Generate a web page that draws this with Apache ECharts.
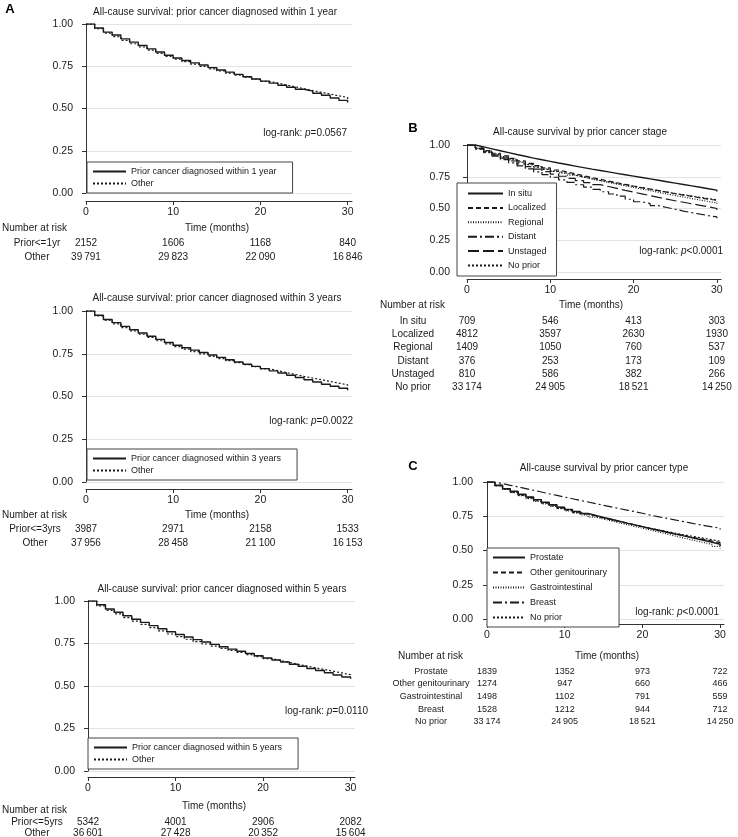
<!DOCTYPE html>
<html><head><meta charset="utf-8">
<script src="https://cdn.jsdelivr.net/npm/echarts@6/dist/echarts.min.js"></script>
<style>html,body{margin:0;padding:0;background:#fff}#c{width:738px;height:837px}</style>
</head><body><div id="c"></div>
<script>
// ---------- shared axis values ----------
const months = [0,1,2,3,4,5,6,7,8,9,10,11,12,13,14,15,16,17,18,19,20,21,22,23,24,25,26,27,28,29,30];
const timeTicks = [0,10,20,30];
const riskTimes = [0,10,20,30];

// ---------- Panel A (1 year) ----------
const a1Title = 'All-cause survival: prior cancer diagnosed within 1 year';
const a1Names = ['Prior cancer diagnosed within 1 year','Other'];
const a1Prior = [1.000,0.976,0.952,0.935,0.912,0.893,0.873,0.853,0.834,0.815,0.799,0.784,0.770,0.757,0.742,0.728,0.715,0.702,0.688,0.675,0.662,0.650,0.638,0.626,0.614,0.603,0.590,0.578,0.562,0.548,0.535];
const a1Other = [1.000,0.972,0.946,0.925,0.903,0.883,0.864,0.845,0.826,0.808,0.792,0.777,0.763,0.749,0.735,0.722,0.709,0.697,0.685,0.673,0.661,0.650,0.639,0.628,0.617,0.606,0.596,0.586,0.575,0.565,0.555];
const a1P = '=0.0567';
const a1RiskLabels = ['Prior<=1yr','Other'];
const a1RiskPrior = [2152,1606,1168,840];
const a1RiskOther = [39791,29823,22090,16846];

// ---------- Panel A (3 years) ----------
const a2Title = 'All-cause survival: prior cancer diagnosed within 3 years';
const a2Names = ['Prior cancer diagnosed within 3 years','Other'];
const a2Prior = [1.000,0.975,0.950,0.932,0.910,0.890,0.871,0.852,0.834,0.816,0.800,0.785,0.771,0.757,0.743,0.729,0.715,0.702,0.689,0.676,0.663,0.650,0.637,0.624,0.611,0.598,0.585,0.572,0.560,0.548,0.536];
const a2Other = [1.000,0.972,0.946,0.925,0.903,0.883,0.864,0.845,0.826,0.808,0.792,0.777,0.763,0.749,0.735,0.722,0.710,0.698,0.686,0.674,0.662,0.651,0.640,0.629,0.618,0.608,0.598,0.588,0.578,0.568,0.558];
const a2P = '=0.0022';
const a2RiskLabels = ['Prior<=3yrs','Other'];
const a2RiskPrior = [3987,2971,2158,1533];
const a2RiskOther = [37956,28458,21100,16153];

// ---------- Panel A (5 years) ----------
const a3Title = 'All-cause survival: prior cancer diagnosed within 5 years';
const a3Names = ['Prior cancer diagnosed within 5 years','Other'];
const a3Prior = [1.000,0.978,0.953,0.934,0.913,0.893,0.874,0.855,0.837,0.819,0.803,0.788,0.773,0.759,0.745,0.731,0.717,0.704,0.691,0.678,0.665,0.653,0.641,0.628,0.616,0.603,0.591,0.578,0.565,0.553,0.542];
const a3Other = [1.000,0.971,0.945,0.924,0.902,0.882,0.862,0.843,0.824,0.806,0.790,0.775,0.761,0.747,0.734,0.721,0.709,0.697,0.685,0.673,0.661,0.650,0.639,0.628,0.617,0.607,0.597,0.587,0.577,0.566,0.555];
const a3P = '=0.0110';
const a3RiskLabels = ['Prior<=5yrs','Other'];
const a3RiskPrior = [5342,4001,2906,2082];
const a3RiskOther = [36601,27428,20352,15604];

// ---------- Panel B (stage) ----------
const bTitle = 'All-cause survival by prior cancer stage';
const bNames = ['In situ','Localized','Regional','Distant','Unstaged','No prior'];
const bInSitu    = [1.000,0.985,0.970,0.955,0.940,0.925,0.911,0.897,0.884,0.871,0.858,0.846,0.834,0.822,0.810,0.799,0.788,0.777,0.766,0.755,0.744,0.733,0.722,0.711,0.700,0.689,0.678,0.667,0.656,0.645,0.633];
const bLocalized = [1.000,0.978,0.956,0.935,0.914,0.894,0.875,0.856,0.838,0.820,0.803,0.788,0.773,0.758,0.744,0.730,0.716,0.703,0.690,0.677,0.665,0.653,0.641,0.629,0.617,0.606,0.595,0.584,0.574,0.564,0.554];
const bRegional  = [1.000,0.975,0.952,0.930,0.909,0.888,0.868,0.849,0.830,0.812,0.795,0.779,0.763,0.748,0.733,0.719,0.705,0.692,0.679,0.666,0.653,0.640,0.627,0.614,0.602,0.590,0.578,0.566,0.555,0.544,0.532];
const bDistant   = [1.000,0.968,0.940,0.912,0.885,0.860,0.836,0.812,0.789,0.767,0.746,0.726,0.706,0.687,0.668,0.650,0.632,0.614,0.597,0.573,0.553,0.538,0.522,0.508,0.494,0.480,0.467,0.455,0.444,0.434,0.424];
const bUnstaged  = [1.000,0.972,0.946,0.921,0.897,0.874,0.852,0.830,0.810,0.790,0.771,0.754,0.737,0.720,0.704,0.688,0.673,0.658,0.643,0.629,0.615,0.601,0.587,0.574,0.561,0.549,0.537,0.525,0.513,0.500,0.488];
const bNoPrior   = [1.000,0.972,0.946,0.925,0.903,0.883,0.864,0.845,0.826,0.808,0.792,0.777,0.763,0.749,0.735,0.722,0.710,0.698,0.686,0.674,0.662,0.651,0.640,0.629,0.618,0.608,0.598,0.588,0.578,0.568,0.558];
const bP = '<0.0001';
const bRiskLabels = ['In situ','Localized','Regional','Distant','Unstaged','No prior'];
const bRiskInSitu    = [709,546,413,303];
const bRiskLocalized = [4812,3597,2630,1930];
const bRiskRegional  = [1409,1050,760,537];
const bRiskDistant   = [376,253,173,109];
const bRiskUnstaged  = [810,586,382,266];
const bRiskNoPrior   = [33174,24905,18521,14250];

// ---------- Panel C (type) ----------
const cTitle = 'All-cause survival by prior cancer type';
const cNames = ['Prostate','Other genitourinary','Gastrointestinal','Breast','No prior'];
const cProstate = [1.000,0.976,0.952,0.932,0.911,0.891,0.871,0.852,0.834,0.816,0.800,0.785,0.770,0.756,0.742,0.728,0.714,0.700,0.687,0.674,0.661,0.648,0.635,0.622,0.610,0.598,0.586,0.573,0.560,0.546,0.532];
const cOtherGU  = [1.000,0.975,0.950,0.928,0.908,0.888,0.869,0.850,0.832,0.815,0.798,0.783,0.768,0.754,0.740,0.727,0.714,0.701,0.688,0.675,0.662,0.650,0.638,0.626,0.614,0.602,0.591,0.580,0.569,0.558,0.547];
const cGastro   = [1.000,0.972,0.946,0.922,0.900,0.879,0.859,0.840,0.822,0.805,0.789,0.774,0.759,0.744,0.730,0.716,0.702,0.689,0.676,0.663,0.650,0.636,0.622,0.608,0.595,0.582,0.569,0.557,0.545,0.530,0.515];
const cBreast   = [1.000,0.988,0.976,0.964,0.952,0.940,0.927,0.914,0.902,0.890,0.878,0.866,0.854,0.842,0.830,0.818,0.806,0.795,0.784,0.772,0.758,0.747,0.736,0.725,0.714,0.703,0.692,0.682,0.672,0.663,0.654];
const cNoPrior  = [1.000,0.972,0.946,0.925,0.903,0.883,0.864,0.845,0.826,0.808,0.792,0.777,0.763,0.749,0.735,0.722,0.710,0.698,0.686,0.674,0.662,0.651,0.640,0.629,0.618,0.608,0.598,0.588,0.578,0.568,0.558];
const cP = '<0.0001';
const cRiskLabels = ['Prostate','Other genitourinary','Gastrointestinal','Breast','No prior'];
const cRiskProstate = [1839,1352,973,722];
const cRiskOtherGU  = [1274,947,660,466];
const cRiskGastro   = [1498,1102,791,559];
const cRiskBreast   = [1528,1212,944,712];
const cRiskNoPrior  = [33174,24905,18521,14250];

// ---------- styling / layout ----------
const FONT = '"Liberation Sans", Arial, Helvetica, sans-serif';
const INK = '#1a1a1a';
const DASH = {
  solid: 'solid', dots: [2,2], dashed: [5,3], fine: [1,1.5], dashdot: [9,3,2,3], longdash: [11,4]
};

const panels = [
  { names:a1Names, curves:[a1Prior,a1Other], dashes:['solid','dots'], title:a1Title, p:a1P,
    riskLabels:a1RiskLabels, risk:[a1RiskPrior,a1RiskOther], tableFont:10,
    grid:{left:86, top:24, width:266, height:169}, yOff:5, xOff:8,
    titlePos:[215,12], letter:['A',10,9], pPos:[347,133], timePos:[217,228], narPos:[2,228], rowX:37, rowY:[243,257],
    legend:{left:87, top:162, padding:[5,16,5,5], itemGap:3, itemWidth:33} },
  { names:a2Names, curves:[a2Prior,a2Other], dashes:['solid','dots'], title:a2Title, p:a2P,
    riskLabels:a2RiskLabels, risk:[a2RiskPrior,a2RiskOther], tableFont:10,
    grid:{left:86, top:311, width:266, height:171}, yOff:5, xOff:7,
    titlePos:[217,298], letter:null, pPos:[353,421], timePos:[217,515], narPos:[2,515], rowX:35, rowY:[529,543],
    legend:{left:87, top:449, padding:[5,16,5,5], itemGap:3, itemWidth:33} },
  { names:a3Names, curves:[a3Prior,a3Other], dashes:['solid','dots'], title:a3Title, p:a3P,
    riskLabels:a3RiskLabels, risk:[a3RiskPrior,a3RiskOther], tableFont:10,
    grid:{left:88, top:601, width:267, height:170}, yOff:5, xOff:6,
    titlePos:[222,589], letter:null, pPos:[368,711], timePos:[214,806], narPos:[2,810], rowX:37, rowY:[822,833],
    legend:{left:88, top:738, padding:[5,16,5,5], itemGap:3, itemWidth:33} },
  { names:bNames, curves:[bInSitu,bLocalized,bRegional,bDistant,bUnstaged,bNoPrior],
    dashes:['solid','dashed','fine','dashdot','longdash','dots'], title:bTitle, p:bP,
    riskLabels:bRiskLabels, risk:[bRiskInSitu,bRiskLocalized,bRiskRegional,bRiskDistant,bRiskUnstaged,bRiskNoPrior], tableFont:10,
    grid:{left:467, top:145, width:254, height:127}, yOff:9, xOff:7,
    titlePos:[580,132], letter:['B',413,128], pPos:[723,251], timePos:[591,305], narPos:[380,305], rowX:413, rowY:[321,334,347,361,374,387],
    legend:{left:457, top:183, padding:[6,10,6,10], itemGap:5.4, itemWidth:35} },
  { names:cNames, curves:[cProstate,cOtherGU,cGastro,cBreast,cNoPrior],
    dashes:['solid','dashed','fine','dashdot','dots'], title:cTitle, p:cP,
    riskLabels:cRiskLabels, risk:[cRiskProstate,cRiskOtherGU,cRiskGastro,cRiskBreast,cRiskNoPrior], tableFont:9,
    grid:{left:487, top:482, width:237, height:137}, yOff:6, xOff:5,
    titlePos:[604,468], letter:['C',413,466], pPos:[719,612], timePos:[607,656], narPos:[398,656], rowX:431, rowY:[672,684,697,710,722],
    legend:{left:487, top:548, padding:[5,12,5,5], itemGap:6, itemWidth:32} }
];

const grids = [], xAxes = [], yAxes = [], series = [], legends = [];
panels.forEach((p, k) => {
  grids.push(Object.assign({containLabel:false}, p.grid));
  xAxes.push({
    type:'value', gridIndex:k, min:0, max:30.5, offset:p.xOff,
    axisLine:{show:true, onZero:false, lineStyle:{color:'#333', width:1}},
    axisTick:{show:true, length:4, customValues:timeTicks, lineStyle:{color:'#333'}},
    axisLabel:{customValues:timeTicks, fontSize:10.5, color:INK, fontFamily:FONT, margin:6},
    splitLine:{show:false}
  });
  yAxes.push({
    type:'value', gridIndex:k, min:0, max:1, interval:0.25, offset:p.yOff,
    axisLine:{show:true, lineStyle:{color:'#333', width:1}},
    axisTick:{show:true, length:4, lineStyle:{color:'#333'}},
    axisLabel:{formatter:v => v.toFixed(2), fontSize:10.5, color:INK, fontFamily:FONT, margin:8},
    splitLine:{show:true, lineStyle:{color:'#e3e3e3', width:1}}
  });
  p.names.forEach((nm, j) => {
    const vals = p.curves[j];
    const solid = p.dashes[j] === 'solid';
    series.push({
      type:'line', name:nm, xAxisIndex:k, yAxisIndex:k, step:'end',
      symbol:'none',
      data: months.map((m, i) => [m, vals[i]]),
      itemStyle:{color:INK},
      lineStyle:{color:INK, width: solid ? 1.4 : 1.2, type: DASH[p.dashes[j]]},
      silent:true, animation:false, z: solid ? 3 : 2
    });
  });
  legends.push(Object.assign({
    data:p.names, orient:'vertical', itemHeight:8, selectedMode:false,
    borderColor:'#444', borderWidth:1, backgroundColor:'#fff', borderRadius:0,
    itemStyle:{opacity:0},
    textStyle:{fontSize:9, color:INK, fontFamily:FONT}
  }, p.legend));
});

const chart = echarts.init(document.getElementById('c'), null, {renderer:'canvas'});
chart.setOption({
  backgroundColor:'#fff', animation:false,
  grid:grids, xAxis:xAxes, yAxis:yAxes, series:series, legend:legends
});

// ---------- texts: titles, p-values, number-at-risk tables ----------
function fmt(n){ const s = String(n); return n >= 10000 ? s.slice(0,-3) + '\u2009' + s.slice(-3) : s; }
function txt(x, y, text, opt){
  return {type:'text', x:x, y:y, silent:true,
    style:Object.assign({text:text, fontSize:10, fontFamily:FONT, fill:INK, align:'center', verticalAlign:'middle'}, opt||{})};
}
const g = [];
panels.forEach((p, k) => {
  g.push(txt(p.titlePos[0], p.titlePos[1], p.title, {fontSize:10}));
  if (p.letter) g.push(txt(p.letter[1], p.letter[2], p.letter[0], {fontSize:13, fontWeight:'bold', fill:'#000'}));
  g.push({type:'text', x:p.pPos[0], y:p.pPos[1], silent:true, style:{
    text:'{a|log-rank: }{i|p}{a|' + p.p + '}', align:'right', verticalAlign:'middle',
    rich:{a:{fontSize:10, fontFamily:FONT, fill:INK}, i:{fontSize:10, fontFamily:FONT, fontStyle:'italic', fill:INK}}
  }});
  g.push(txt(p.timePos[0], p.timePos[1], 'Time (months)'));
  g.push(txt(p.narPos[0], p.narPos[1], 'Number at risk', {align:'left'}));
  p.riskLabels.forEach((lab, r) => {
    const y = p.rowY[r];
    g.push(txt(p.rowX, y, lab, {fontSize:p.tableFont}));
    p.risk[r].forEach((n, c) => {
      const x = chart.convertToPixel({xAxisIndex:k}, riskTimes[c]);
      g.push(txt(x, y, fmt(n), {fontSize:p.tableFont}));
    });
  });
});
chart.setOption({graphic:g});
</script>
</body></html>
